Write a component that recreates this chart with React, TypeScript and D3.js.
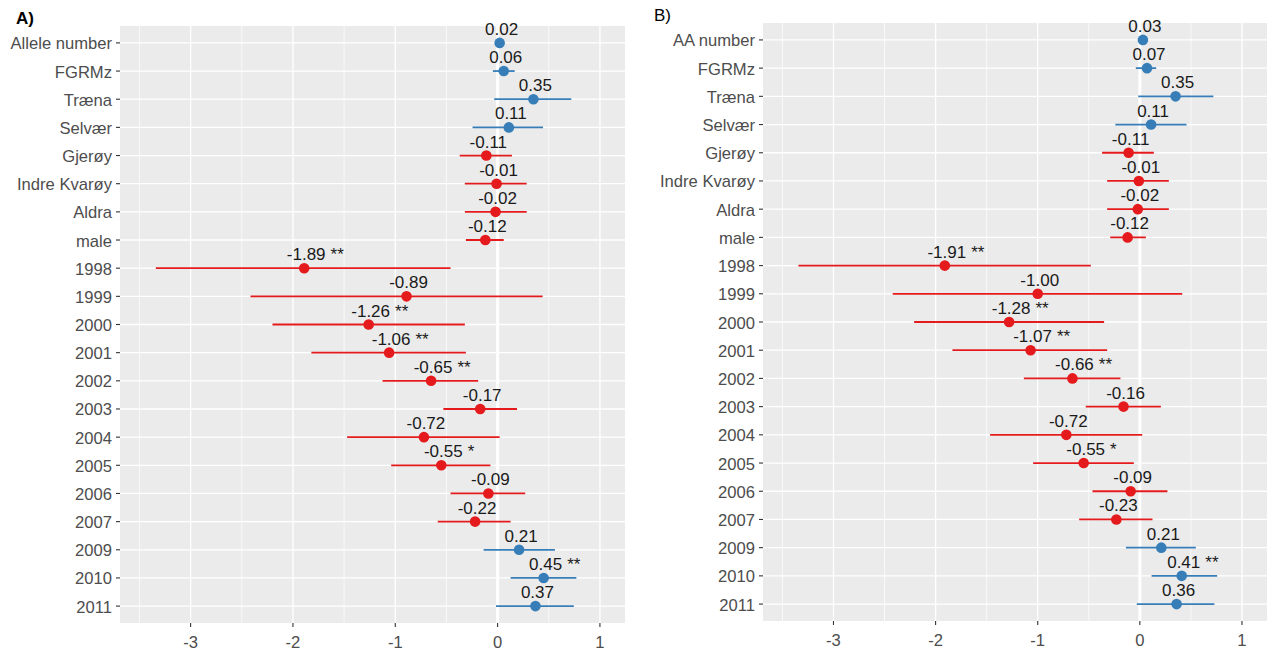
import React from "react";
import * as d3 from "d3";

// Model terms (top to bottom)
const termsA = ["Allele number", "FGRMz", "Træna", "Selvær", "Gjerøy", "Indre Kvarøy", "Aldra", "male",
  "1998", "1999", "2000", "2001", "2002", "2003", "2004", "2005", "2006", "2007", "2009", "2010", "2011"];
const termsB = ["AA number", "FGRMz", "Træna", "Selvær", "Gjerøy", "Indre Kvarøy", "Aldra", "male",
  "1998", "1999", "2000", "2001", "2002", "2003", "2004", "2005", "2006", "2007", "2009", "2010", "2011"];

// Panel A: estimates, confidence limits, significance
const estimatesA = [0.02, 0.06, 0.35, 0.11, -0.11, -0.01, -0.02, -0.12, -1.89, -0.89, -1.26, -1.06, -0.65, -0.17, -0.72, -0.55, -0.09, -0.22, 0.21, 0.45, 0.37];
const lowerA = [0.0, -0.046, -0.033, -0.245, -0.37, -0.32, -0.32, -0.31, -3.34, -2.415, -2.2, -1.82, -1.124, -0.53, -1.47, -1.04, -0.46, -0.585, -0.137, 0.127, -0.016];
const upperA = [0.04, 0.167, 0.72, 0.444, 0.14, 0.284, 0.284, 0.06, -0.46, 0.44, -0.32, -0.31, -0.19, 0.19, 0.02, -0.07, 0.27, 0.127, 0.56, 0.77, 0.745];
const starsA = ["", "", "", "", "", "", "", "", "**", "", "**", "**", "**", "", "", "*", "", "", "", "**", ""];

// Panel B
const estimatesB = [0.03, 0.07, 0.35, 0.11, -0.11, -0.01, -0.02, -0.12, -1.91, -1.0, -1.28, -1.07, -0.66, -0.16, -0.72, -0.55, -0.09, -0.23, 0.21, 0.41, 0.36];
const lowerB = [0.01, -0.04, -0.016, -0.24, -0.37, -0.32, -0.32, -0.29, -3.343, -2.42, -2.21, -1.835, -1.136, -0.53, -1.466, -1.045, -0.464, -0.594, -0.137, 0.115, -0.03];
const upperB = [0.05, 0.16, 0.72, 0.457, 0.137, 0.284, 0.284, 0.059, -0.48, 0.415, -0.35, -0.32, -0.19, 0.206, 0.023, -0.059, 0.27, 0.124, 0.548, 0.757, 0.73];
const starsB = ["", "", "", "", "", "", "", "", "**", "", "**", "**", "**", "", "", "*", "", "", "", "**", ""];

const xTicks = [-3, -2, -1, 0, 1];
const xMinor = [-3.5, -2.5, -1.5, -0.5, 0.5];
const xDomain: [number, number] = [-3.69, 1.245];

const FONT = "'Liberation Sans', Arial, sans-serif";
const POS = "#377EB8";
const NEG = "#E41A1C";

let ctx: CanvasRenderingContext2D | null = null;
function textWidth(s: string, size: number) {
  if (!ctx) ctx = document.createElement("canvas").getContext("2d");
  if (!ctx) return s.length * size * 0.55;
  ctx.font = `${size}px 'Liberation Sans', Arial, sans-serif`;
  return ctx.measureText(s).width;
}

type PanelProps = {
  title: string;
  bold: boolean;
  left: number; right: number; top: number; bottom: number;
  titleX: number; titleY: number;
  terms: string[]; est: number[]; lo: number[]; hi: number[]; stars: string[];
};

function Panel(p: PanelProps) {
  const x = d3.scaleLinear().domain(xDomain).range([p.left, p.right]);
  const y = d3.scalePoint<string>().domain(p.terms).range([p.top, p.bottom]).padding(0.6);
  const labelSize = 17;
  const axisSize = 16.6;
  return (
    <g>
      <text x={p.titleX} y={p.titleY} fontFamily={FONT} fontSize={17} fontWeight={p.bold ? "bold" : "normal"} fill="#000">{p.title}</text>
      <rect x={p.left} y={p.top} width={p.right - p.left} height={p.bottom - p.top} fill="#EBEBEB" />
      {xMinor.map((v) => (
        <line key={"mn" + v} x1={x(v)} x2={x(v)} y1={p.top} y2={p.bottom} stroke="#fff" strokeWidth={0.7} />
      ))}
      {xTicks.map((v) => (
        <line key={"mj" + v} x1={x(v)} x2={x(v)} y1={p.top} y2={p.bottom} stroke="#fff" strokeWidth={1.3} />
      ))}
      {p.terms.map((t) => (
        <line key={"h" + t} x1={p.left} x2={p.right} y1={y(t)} y2={y(t)} stroke="#fff" strokeWidth={1.3} />
      ))}
      <line x1={x(0)} x2={x(0)} y1={p.top} y2={p.bottom} stroke="#fff" strokeWidth={3} />
      {p.terms.map((t, i) => {
        const c = p.est[i] >= 0 ? POS : NEG;
        const cy = y(t) as number;
        return (
          <g key={"m" + i}>
            <line x1={x(p.lo[i])} x2={x(p.hi[i])} y1={cy} y2={cy} stroke={c} strokeWidth={1.8} />
            <circle cx={x(p.est[i])} cy={cy} r={5.3} fill={c} />
          </g>
        );
      })}
      {p.terms.map((t, i) => {
        const cy = y(t) as number;
        const cx = x(p.est[i]) + 2;
        const s = p.est[i].toFixed(2);
        const w = textWidth(s, labelSize);
        return (
          <g key={"l" + i}>
            <text x={cx} y={cy - 8} textAnchor="middle" fontFamily={FONT} fontSize={labelSize} fill="#1A1A1A">{s}</text>
            {p.stars[i] ? (
              <text x={cx + w / 2 + 5} y={cy - 8} fontFamily={FONT} fontSize={labelSize} fill="#1A1A1A">{p.stars[i]}</text>
            ) : null}
          </g>
        );
      })}
      {p.terms.map((t) => (
        <g key={"yt" + t}>
          <line x1={p.left - 4} x2={p.left} y1={y(t)} y2={y(t)} stroke="#333" strokeWidth={1.1} />
          <text x={p.left - 8} y={(y(t) as number) + 6.5} textAnchor="end" fontFamily={FONT} fontSize={axisSize} fill="#4D4D4D">{t}</text>
        </g>
      ))}
      {xTicks.map((v) => (
        <g key={"xt" + v}>
          <line x1={x(v)} x2={x(v)} y1={p.bottom} y2={p.bottom + 4} stroke="#333" strokeWidth={1.1} />
          <text x={x(v)} y={p.bottom + 25} textAnchor="middle" fontFamily={FONT} fontSize={axisSize} fill="#4D4D4D">{String(v)}</text>
        </g>
      ))}
    </g>
  );
}

export default function App() {
  return (
    <svg width={1271} height={653} style={{ position: "absolute", left: 0, top: 0, background: "#fff" }}>
      <Panel title="A)" bold={true} left={120} right={625} top={26} bottom={623} titleX={16} titleY={24}
        terms={termsA} est={estimatesA} lo={lowerA} hi={upperA} stars={starsA} />
      <Panel title="B)" bold={false} left={763} right={1267} top={23} bottom={621} titleX={654} titleY={21}
        terms={termsB} est={estimatesB} lo={lowerB} hi={upperB} stars={starsB} />
    </svg>
  );
}
